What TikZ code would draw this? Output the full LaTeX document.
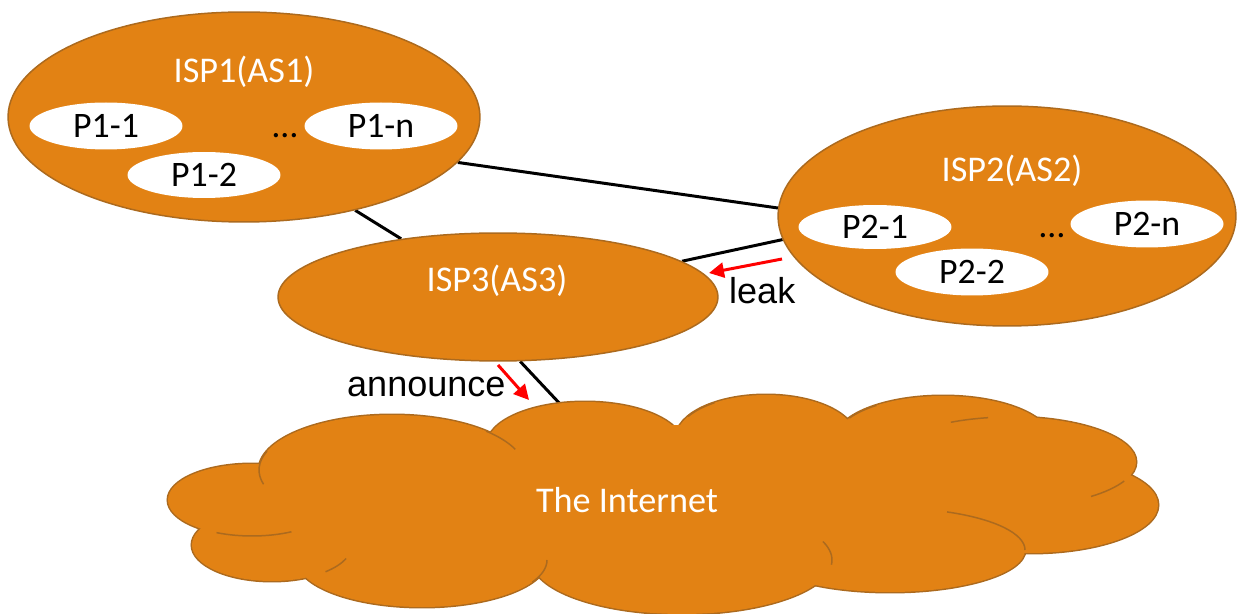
\documentclass[tikz,border=0pt]{standalone}
\usepackage{fontspec}
\setmainfont{Carlito}
\newfontfamily\arialFont{Liberation Sans}
\usetikzlibrary{shapes.geometric,arrows.meta,backgrounds}
\definecolor{ispOrange}{RGB}{226,130,20}
\definecolor{ispEdge}{RGB}{172,106,30}
\tikzset{ispStyle/.style={
    ellipse,
    fill=ispOrange,
    draw=ispEdge,
    line width=0.85pt,
    inner sep=0pt}
}
\tikzset{nameStyle/.style={
    anchor=base,
    text=white,
    font=\fontsize{20.6}{24}\selectfont}
}
\tikzset{prefixStyle/.style={
    ellipse,
    fill=white,
    inner sep=0pt,
    minimum width=3.06cm,
    minimum height=0.94cm,
    font=\fontsize{20.4}{24}\selectfont}
}
\tikzset{linkStyle/.style={color=black,line width=1.7pt}}
\tikzset{arrowStyle/.style={
    -{Triangle[length=0.3cm,width=0.3cm]},
    color=red,
    line width=1.7pt}
}
\tikzset{wordStyle/.style={anchor=base west,font=\arialFont\fontsize{20.5}{24}\selectfont}}

\begin{document}
\begin{tikzpicture}[x=0.02cm,y=-0.02cm]
      \useasboundingbox (0,0) rectangle (1237,614);

      % ISP1 with its prefixes
      \node[ispStyle,minimum width=9.44cm,minimum height=4.2cm] (isp1) at (244,117) {};
      \node[nameStyle] (isp1Name) at (244,83) {ISP1(AS1)};
      \node[prefixStyle] (p11) at (106,126) {P1-1};
      \node[prefixStyle] (p1n) at (381,126) {P1-n};
      \node[prefixStyle,minimum height=0.92cm] (p12) at (204,175) {P1-2};
      \node[anchor=base,font=\fontsize{20.4}{24}\selectfont] (dots1) at (285,138) {…};

      % ISP2 with its prefixes
      \node[ispStyle,minimum width=9.16cm,minimum height=4.4cm] (isp2) at (1007,216) {};
      \node[nameStyle] (isp2Name) at (1012,182) {ISP2(AS2)};
      \node[prefixStyle,minimum height=0.88cm] (p21) at (875,227) {P2-1};
      \node[prefixStyle] (p2n) at (1147,224) {P2-n};
      \node[prefixStyle] (p22) at (972,272) {P2-2};
      \node[anchor=base,font=\fontsize{20.4}{24}\selectfont] (dots2) at (1052,238) {…};

      % ISP3
      \node[ispStyle,minimum width=8.8cm,minimum height=2.56cm] (isp3) at (498,297) {};
      \node[nameStyle] (isp3Name) at (497,292) {ISP3(AS3)};

      % the cloud: thick outline first, fill on top leaves the rim
      \foreach \cx/\cy/\rx/\ry in {392/470/133/55, 585/445/98/43, 766/438/90/43,
            943/440/108/44, 1010/462/126/45, 1030/505/128/48, 890/550/135/42,
            682/560/150/54, 422/560/125/47, 272/545/80/36, 252/500/84/36}
      {
        \draw[color=ispEdge,line width=1.7pt] (\cx,\cy) ellipse[x radius=\rx,y radius=\ry];
      }
      \foreach \cx/\cy/\rx/\ry in {392/470/133/55, 585/445/98/43, 766/438/90/43,
            943/440/108/44, 1010/462/126/45, 1030/505/128/48, 890/550/135/42,
            682/560/150/54, 422/560/125/47, 272/545/80/36, 252/500/84/36, 660/500/400/75}
      {
        \fill[color=ispOrange] (\cx,\cy) ellipse[x radius=\rx,y radius=\ry];
      }
      % inner folds of the cloud
      \draw[color=ispEdge,line width=0.85pt] (392,470) ++(-45:133 and 55) arc[start angle=-45,end angle=-22,x radius=133,y radius=55];
      \draw[color=ispEdge,line width=0.85pt] (766,438) ++(-150:90 and 43) arc[start angle=-150,end angle=-125,x radius=90,y radius=43];
      \draw[color=ispEdge,line width=0.85pt] (943,440) ++(-150:108 and 44) arc[start angle=-150,end angle=-128,x radius=108,y radius=44];
      \draw[color=ispEdge,line width=0.85pt] (1010,462) ++(-118:126 and 45) arc[start angle=-118,end angle=-100,x radius=126,y radius=45];
      \draw[color=ispEdge,line width=0.85pt] (1010,462) ++(25:126 and 45) arc[start angle=25,end angle=50,x radius=126,y radius=45];
      \draw[color=ispEdge,line width=0.85pt] (890,550) ++(-65:135 and 42) arc[start angle=-65,end angle=0,x radius=135,y radius=42];
      \draw[color=ispEdge,line width=0.85pt] (682,560) ++(-20:150 and 54) arc[start angle=-20,end angle=5,x radius=150,y radius=54];
      \draw[color=ispEdge,line width=0.85pt] (422,560) ++(0:125 and 47) arc[start angle=0,end angle=28,x radius=125,y radius=47];
      \draw[color=ispEdge,line width=0.85pt] (272,545) ++(22:80 and 36) arc[start angle=22,end angle=48,x radius=80,y radius=36];
      \draw[color=ispEdge,line width=0.85pt] (252,500) ++(62:84 and 36) arc[start angle=62,end angle=115,x radius=84,y radius=36];
      \draw[color=ispEdge,line width=0.85pt] (392,470) ++(165:133 and 55) arc[start angle=165,end angle=200,x radius=133,y radius=55];

      \node[nameStyle] (internet) at (627,513) {The Internet};
      \coordinate (cloudTop) at (562,406);

      % links between the ISPs, kept behind the shapes
      \begin{scope}[on background layer]
        \draw[linkStyle] (isp1.-12) -- (isp2.178);
        \draw[linkStyle] (isp1.-40) -- (isp3.149);
        \draw[linkStyle] (isp2.186.7) -- (isp3.11.6);
        \draw[linkStyle] (isp3.-71) -- (cloudTop);
      \end{scope}

      % route leak and announcement
      \coordinate (leakFrom) at (782,259);
      \coordinate (leakTo) at (709,273);
      \draw[arrowStyle] (leakFrom) -- (leakTo);
      \node[wordStyle] (leakText) at (723,304) {leak};

      \coordinate (annFrom) at (498,365);
      \coordinate (annTo) at (529,400);
      \draw[arrowStyle] (annFrom) -- (annTo);
      \node[wordStyle] (annText) at (341,397) {announce};
\end{tikzpicture}
\end{document}
